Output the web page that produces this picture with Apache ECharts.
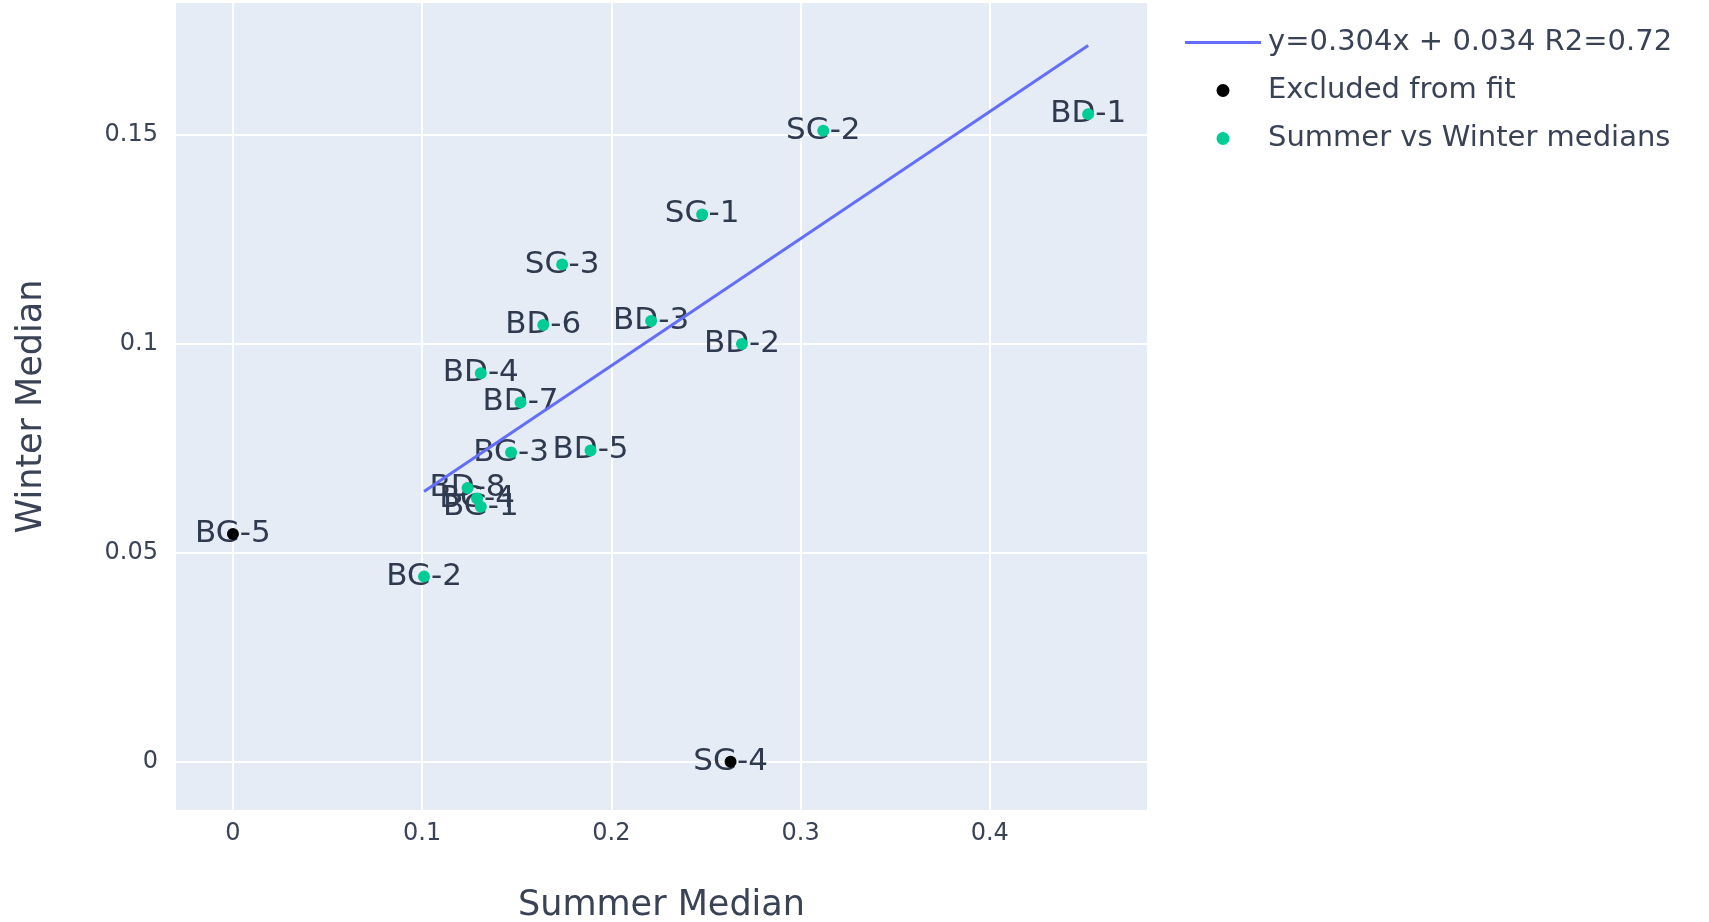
<!DOCTYPE html>
<html>
<head>
<meta charset="utf-8">
<script src="https://cdn.jsdelivr.net/npm/echarts@6/dist/echarts.min.js"></script>
<style>
html,body{margin:0;padding:0;background:#fff;}
#chart{width:1709px;height:922px;}
</style>
</head>
<body>
<div id="chart"></div>
<script>
// Included points (used for the fit)
const fitNames  = ['BD-1','SG-2','SG-1','SG-3','BD-6','BD-3','BD-2','BD-4','BD-7','BG-3','BD-5','BD-8','BG-4','BG-1','BG-2'];
const fitSummer = [0.452, 0.312, 0.248, 0.174, 0.164, 0.221, 0.269, 0.131, 0.152, 0.147, 0.189, 0.124, 0.129, 0.131, 0.101];
const fitWinter = [0.155, 0.151, 0.131, 0.119, 0.1045, 0.1055, 0.100, 0.093, 0.086, 0.074, 0.0745, 0.0655, 0.063, 0.061, 0.0443];
// Excluded points
const exclNames  = ['BG-5','SG-4'];
const exclSummer = [0.0, 0.263];
const exclWinter = [0.0545, 0.0];
// Fit line end points
const lineX = [0.101, 0.452];
const lineY = [0.0647, 0.1714];
// Tick values
const xTicks = [0, 0.1, 0.2, 0.3, 0.4];
const yTicks = [0, 0.05, 0.1, 0.15];

const lineName = 'y=0.304x + 0.034 R2=0.72';
const exclName = 'Excluded from fit';
const fitName  = 'Summer vs Winter medians';

const FONT = 'DejaVu Sans';
const TXT = '#3a4356';

const toPts = (xs, ys, ns) => xs.map((x, i) => ns ? {value: [x, ys[i]], name: ns[i]} : [x, ys[i]]);

const labelStyle = {
  show: true, position: 'inside', formatter: p => p.name,
  color: '#2f3a4f', fontFamily: FONT, fontSize: 31, opacity: 1
};

const chart = echarts.init(document.getElementById('chart'), null, {renderer: 'canvas'});
chart.setOption({
  animation: false,
  backgroundColor: '#ffffff',
  textStyle: {fontFamily: FONT},
  grid: {left: 176, right: 562, top: 3, bottom: 112, show: true, backgroundColor: '#E5ECF6', borderWidth: 0,
         containLabel: false, outerBoundsMode: 'none'},
  legend: {
    orient: 'vertical', left: 1180, top: 23, itemGap: 19,
    itemWidth: 76, itemHeight: 13,
    textStyle: {color: TXT, fontFamily: FONT, fontSize: 29, padding: [0, 0, 0, 2]},
    data: [
      {name: lineName, icon: 'path://M0,0L100,0L100,4L0,4Z'},
      {name: exclName, icon: 'circle'},
      {name: fitName, icon: 'circle'}
    ]
  },
  xAxis: {
    type: 'value', min: -0.0301, max: 0.4831,
    name: 'Summer Median', nameLocation: 'middle', nameGap: 78,
    nameTextStyle: {color: TXT, fontFamily: FONT, fontSize: 35},
    axisLine: {show: false}, axisTick: {show: false, customValues: xTicks},
    axisLabel: {customValues: xTicks, color: TXT, fontFamily: FONT, fontSize: 24, margin: 12},
    splitLine: {show: true, lineStyle: {color: '#ffffff', width: 2}}
  },
  yAxis: {
    type: 'value', min: -0.01156, max: 0.1816,
    name: 'Winter Median', nameLocation: 'middle', nameGap: 127,
    nameTextStyle: {color: TXT, fontFamily: FONT, fontSize: 35},
    axisLine: {show: false}, axisTick: {show: false, customValues: yTicks},
    axisLabel: {customValues: yTicks, color: TXT, fontFamily: FONT, fontSize: 24, margin: 18},
    splitLine: {show: true, lineStyle: {color: '#ffffff', width: 2}}
  },
  series: [
    {
      name: lineName, type: 'line', symbol: 'none', z: 2,
      data: toPts(lineX, lineY),
      lineStyle: {color: '#636efa', width: 3}, itemStyle: {color: '#636efa'}
    },
    // text labels (drawn under markers)
    {
      name: 'labels-fit', type: 'scatter', z: 1, silent: true, symbolSize: 1,
      itemStyle: {color: 'rgba(0,0,0,0)', opacity: 1},
      data: toPts(fitSummer, fitWinter, fitNames), label: labelStyle
    },
    {
      name: 'labels-excl', type: 'scatter', z: 1, silent: true, symbolSize: 1,
      itemStyle: {color: 'rgba(0,0,0,0)', opacity: 1},
      data: toPts(exclSummer, exclWinter, exclNames), label: labelStyle
    },
    {
      name: exclName, type: 'scatter', z: 3, symbolSize: 12,
      itemStyle: {color: '#000000', opacity: 1},
      data: toPts(exclSummer, exclWinter, exclNames)
    },
    {
      name: fitName, type: 'scatter', z: 3, symbolSize: 12,
      itemStyle: {color: '#00cc96', opacity: 1},
      data: toPts(fitSummer, fitWinter, fitNames)
    }
  ]
});
</script>
</body>
</html>
